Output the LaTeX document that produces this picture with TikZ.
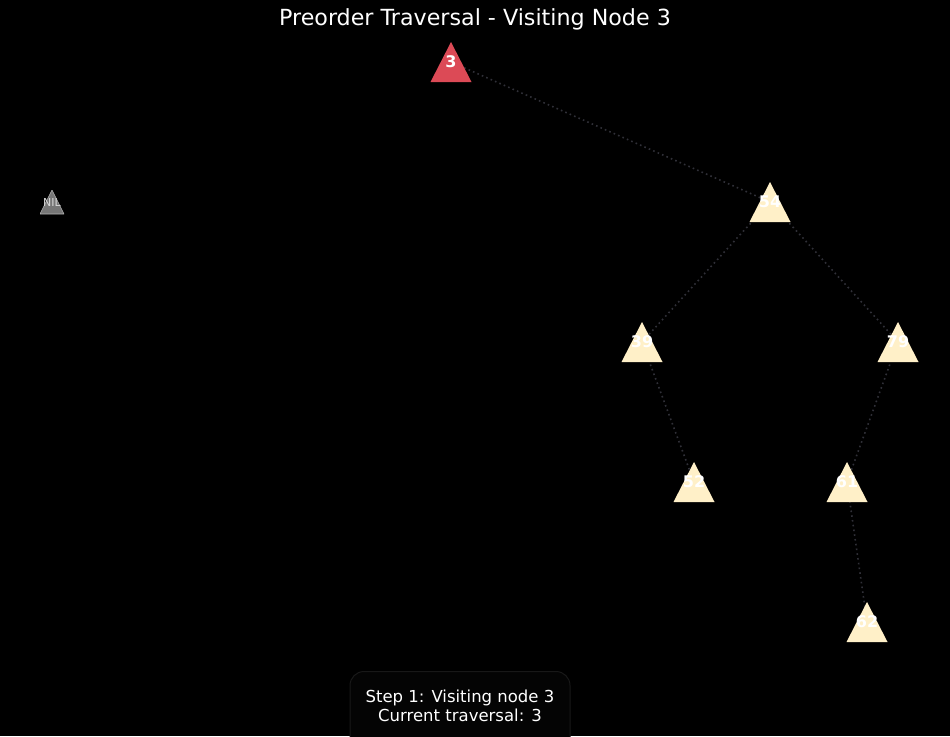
\documentclass[tikz,border=0pt]{standalone}
\usepackage{fontspec}
\setmainfont{DejaVu Sans}
\usetikzlibrary{backgrounds}
\definecolor{nodered}{RGB}{220,74,86}
\definecolor{nodecream}{RGB}{255,240,200}
\definecolor{nilgray}{RGB}{118,118,118}
\definecolor{edgegray}{RGB}{48,48,56}
\definecolor{boxfill}{RGB}{4,4,4}
\definecolor{boxline}{RGB}{24,24,24}
\begin{document}
\begin{tikzpicture}[x=1pt,y=-1pt,
  tri/.style={minimum width=41pt, minimum height=40pt, inner sep=0pt,
    text=white, font=\fontsize{16}{16}\selectfont\bfseries,
    path picture={\fill[#1] (path picture bounding box.south west) -- (path picture bounding box.south east) -- (path picture bounding box.north) -- cycle;}},
  niltri/.style={minimum width=24pt, minimum height=24pt, inner sep=0pt,
    text=white!85!black, font=\fontsize{11}{11}\selectfont,
    path picture={\fill[nilgray,draw=white!70!black,line width=0.6pt] (path picture bounding box.south west) -- (path picture bounding box.south east) -- (path picture bounding box.north) -- cycle;}},
  edge/.style={draw=edgegray, line width=1.6pt, dash pattern=on 1.6pt off 3.2pt}]
\useasboundingbox (0,0) rectangle (950,736);
\node[font=\fontsize{22.2}{22.2}\selectfont, text=white] (title) at (475,19) {Preorder Traversal - Visiting Node 3};
\node[tri=nodered] (n3) at (451,62) {3};
\node[tri=nodecream] (n54) at (770,202) {54};
\node[tri=nodecream] (n39) at (642,342) {39};
\node[tri=nodecream] (n79) at (898,342) {79};
\node[tri=nodecream] (n52) at (694,482) {52};
\node[tri=nodecream] (n61) at (847,482) {61};
\node[tri=nodecream] (n62) at (867,622) {62};
\node[niltri] (nil) at (52,202) {NIL};
\begin{scope}[on background layer]
\fill[black] (0,0) rectangle (950,736);
\draw[edge] (n3.center) -- (n54.center);
\draw[edge] (n54.center) -- (n39.center);
\draw[edge] (n54.center) -- (n79.center);
\draw[edge] (n39.center) -- (n52.center);
\draw[edge] (n79.center) -- (n61.center);
\draw[edge] (n61.center) -- (n62.center);
\end{scope}
\node[draw=boxline, fill=boxfill, rounded corners=14pt, line width=1pt,
  minimum width=220pt, minimum height=90pt, anchor=north] (box) at (460,671) {};
\node[text=white, font=\fontsize{16.5}{19.5}\selectfont, align=center] (info) at (460,706) {Step 1: Visiting node 3\\Current traversal: 3};
\end{tikzpicture}
\end{document}
